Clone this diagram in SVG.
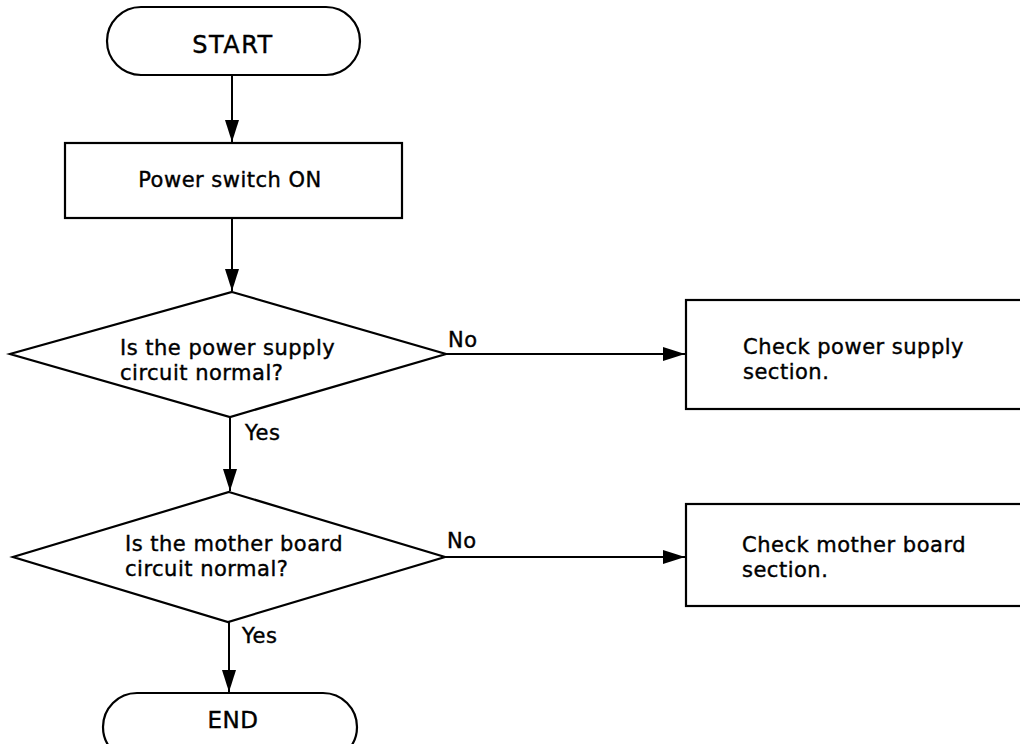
<svg xmlns="http://www.w3.org/2000/svg" width="1020" height="744" viewBox="0 0 1020 744">
<defs>
<style>
.shape{fill:#fff;stroke:#000;stroke-width:2.2}
.conn{fill:none;stroke:#000;stroke-width:2}
text{font-family:"DejaVu Sans","Liberation Sans",sans-serif;font-size:21px;letter-spacing:0.5px;fill:#000;stroke:#000;stroke-width:0.4}
.mid{text-anchor:middle}
</style>
<marker id="arr" markerUnits="userSpaceOnUse" markerWidth="24" markerHeight="16" refX="22" refY="7" orient="auto">
<path d="M0,0 L22,7 L0,14 Z" fill="#000"/>
</marker>
</defs>
<rect width="1020" height="744" fill="#fff"/>
<g id="connectors">
<line class="conn" x1="232" y1="75" x2="232" y2="142" marker-end="url(#arr)"/>
<line class="conn" x1="232" y1="218" x2="232" y2="291" marker-end="url(#arr)"/>
<line class="conn" x1="230" y1="417" x2="230" y2="491" marker-end="url(#arr)"/>
<line class="conn" x1="229" y1="622" x2="229" y2="692" marker-end="url(#arr)"/>
<line class="conn" x1="446" y1="354" x2="685" y2="354" marker-end="url(#arr)"/>
<line class="conn" x1="445" y1="557" x2="685" y2="557" marker-end="url(#arr)"/>
<text x="448" y="347">No</text>
<text x="447" y="548">No</text>
<text x="245" y="440">Yes</text>
<text x="242" y="643">Yes</text>
</g>
<g id="start">
<rect class="shape" x="107" y="7" width="253" height="68" rx="34"/>
<text class="mid" x="233" y="53" style="font-size:24px;letter-spacing:1.5px">START</text>
</g>
<g id="power-switch">
<rect class="shape" x="65" y="143" width="337" height="75"/>
<text class="mid" x="230" y="187">Power switch ON</text>
</g>
<g id="decision-power">
<polygon class="shape" points="232,292 446,354 230,417 10,354"/>
<text x="120" y="355">Is the power supply</text>
<text x="120" y="380">circuit normal?</text>
</g>
<g id="check-power">
<rect class="shape" x="686" y="300" width="340" height="109"/>
<text x="743" y="354">Check power supply</text>
<text x="743" y="379">section.</text>
</g>
<g id="decision-board">
<polygon class="shape" points="229,492 445,557 228,622 13,557"/>
<text x="125" y="551">Is the mother board</text>
<text x="125" y="576">circuit normal?</text>
</g>
<g id="check-board">
<rect class="shape" x="686" y="504" width="340" height="102"/>
<text x="742" y="552">Check mother board</text>
<text x="742" y="577">section.</text>
</g>
<g id="end">
<rect class="shape" x="103" y="693" width="254" height="68" rx="34"/>
<text class="mid" x="233" y="728" style="font-size:23px">END</text>
</g>
</svg>
